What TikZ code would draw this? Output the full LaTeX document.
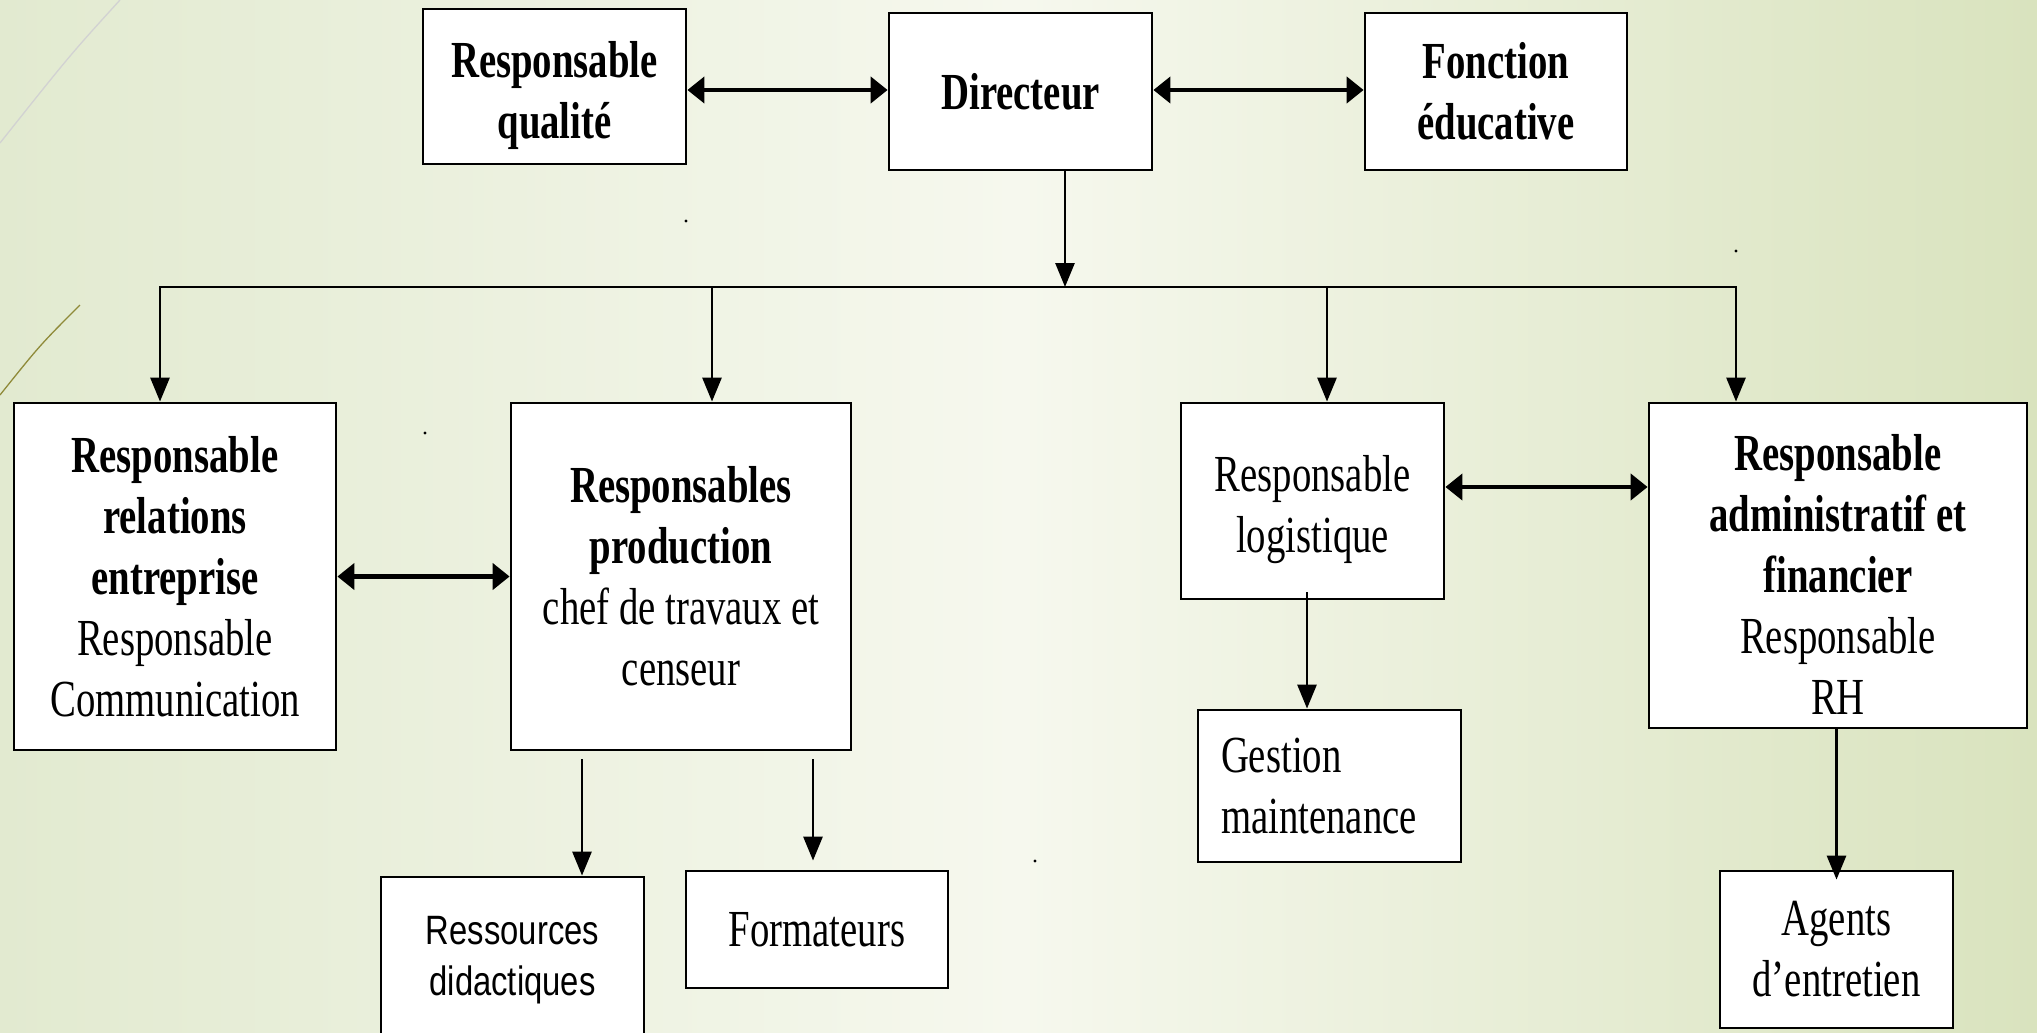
\documentclass[tikz,border=0pt]{standalone}
\usepackage{fontspec}
\newfontfamily\rmc{Liberation Serif}[FakeStretch=0.745]
\newfontfamily\sfc{Liberation Sans}[FakeStretch=0.8]
\usetikzlibrary{arrows.meta,calc}
\definecolor{bgL}{HTML}{E2EAD0}
\definecolor{bgM}{HTML}{F6F8EE}
\definecolor{bgR}{HTML}{D9E3BE}
\newcommand{\upstrut}{\rule{0pt}{54pt}}
\tikzset{
 box/.style={draw=black, line width=2.8pt, fill=white, inner sep=0pt, align=center,
   font=\rmc\fontsize{52}{61}\selectfont},
 dbl/.style={line width=4.8pt, {Triangle[length=17pt,width=26pt]}-{Triangle[length=17pt,width=26pt]}},
 down/.style={line width=2.8pt, -{Triangle[length=24pt,width=19pt]}},
 busline/.style={line width=2.8pt, line cap=rect},
}
\begin{document}
\begin{tikzpicture}[x=1pt,y=-1pt]
\useasboundingbox (0,0) rectangle (2037,1033);
\clip (0,0) rectangle (2037,1033);
\shade[left color=bgL, right color=bgR, middle color=bgM] (0,0) rectangle (2037,1033);
% decorative slide lines
\draw[color=gray!35, line width=1.3pt] (120,0) .. controls (70,55) .. (0,143);
\draw[color=olive!60!gray, line width=1.3pt] (80,305) .. controls (40,345) .. (0,395);
% small dots
\fill (686,221) circle (1.6pt);
\fill (425,433) circle (1.6pt);
\fill (1035,861) circle (1.6pt);
\fill (1736,251) circle (1.6pt);
% boxes
\node[box, minimum width=263pt, minimum height=155pt] (rq) at (554.5,86.5) {\upstrut\textbf{Responsable}\\\textbf{qualité}};
\node[box, minimum width=263pt, minimum height=157pt] (d) at (1020.5,91.5) {\textbf{Directeur}};
\node[box, minimum width=262pt, minimum height=157pt] (f) at (1496,91.5) {\textbf{Fonction}\\\textbf{éducative}};
\node[box, minimum width=322pt, minimum height=347pt] (re) at (175,576.5)
  {\textbf{Responsable}\\\textbf{relations}\\\textbf{entreprise}\\Responsable\\Communication};
\node[box, minimum width=340pt, minimum height=347pt] (rp) at (681,576.5)
  {\textbf{Responsables}\\\textbf{production}\\chef de travaux et\\censeur};
\node[box, minimum width=263pt, minimum height=196pt] (rl) at (1312.5,501) {\upstrut Responsable\\logistique};
\node[box, minimum width=378pt, minimum height=325pt] (ra) at (1838,565.5)
  {\upstrut\textbf{Responsable}\\\textbf{administratif et}\\\textbf{financier}\\Responsable\\RH};
\node[box, minimum width=263pt, minimum height=152pt, text width=217pt, align=left] (gm) at (1329.5,786) {Gestion\\maintenance};
\node[box, minimum width=263pt, minimum height=166pt, font=\sfc\fontsize{41}{51}\selectfont] (rd) at (512.5,960) {Ressources\\didactiques};
\node[box, minimum width=262pt, minimum height=117pt] (fo) at (817,929.5) {Formateurs};
\node[box, minimum width=233pt, minimum height=157pt] (ae) at (1836.5,949.5) {Agents\\d’entretien};
% coordinates
\coordinate (bl) at (160,287);
\coordinate (br) at (1736,287);
\coordinate (b2) at (712,287);
\coordinate (b3) at (1327,287);
\coordinate (lqa) at (0,90);
\coordinate (lra) at (0,487);
\coordinate (p1) at (582,759);
\coordinate (p2) at (813,759);
\coordinate (l1) at (1307,592);
% connectors
\draw[dbl] (rq.east |- lqa) -- (d.west |- lqa);
\draw[dbl] (d.east |- lqa) -- (f.west |- lqa);
\draw[down] ([xshift=44.5pt]d.south) -- ($(d.south |- bl)+(44.5,0)$);
\draw[busline] (bl) -- (br);
\draw[down] (bl) -- (bl |- re.north);
\draw[down] (b2) -- (b2 |- rp.north);
\draw[down] (b3) -- (b3 |- rl.north);
\draw[down] (br) -- (br |- ra.north);
\draw[dbl] (re.east) -- (rp.west);
\draw[dbl] (rl.east |- lra) -- (ra.west |- lra);
\draw[down] (p1) -- (p1 |- rd.north);
\draw[down] (p2) -- ($(p2 |- fo.north)+(0,-9)$);
\draw[down] (l1) -- (l1 |- gm.north);
\draw[down] (ra.south -| ae.north) -- ($(ae.north)+(0,10)$);
\end{tikzpicture}
\end{document}
